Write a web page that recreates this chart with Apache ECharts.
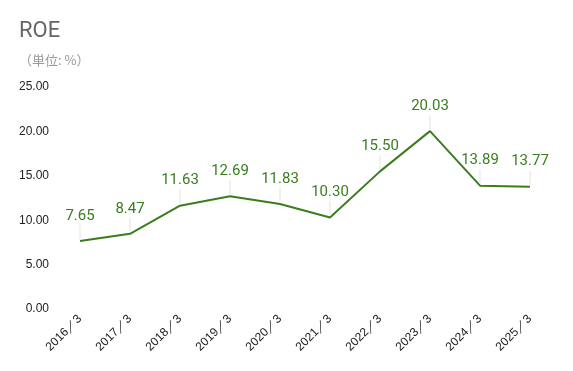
<!DOCTYPE html>
<html><head><meta charset="utf-8">
<script src="https://cdn.jsdelivr.net/npm/echarts@6/dist/echarts.min.js"></script>
<style>html,body{margin:0;padding:0;background:#fff}#c{width:573px;height:371px}</style>
</head><body><div id="c"></div>
<script>
const categories = ['2016／3','2017／3','2018／3','2019／3','2020／3','2021／3','2022／3','2023／3','2024／3','2025／3'];
const roe = [7.65, 8.47, 11.63, 12.69, 11.83, 10.30, 15.50, 20.03, 13.89, 13.77];
const yTicks = [0, 5, 10, 15, 20, 25];

const chart = echarts.init(document.getElementById('c'));
chart.setOption({
  animation: false,
  title: {
    text: 'ROE',
    subtext: '（単位: %）',
    left: 14, top: 15,
    itemGap: 12,
    textStyle: {fontSize: 22, fontWeight: 'normal', color: '#666', fontFamily: 'Roboto, sans-serif'},
    subtextStyle: {fontSize: 13, color: '#999', fontFamily: 'Noto Sans CJK JP, sans-serif'}
  },
  grid: {left: 55, right: 18, top: 87, bottom: 62},
  xAxis: {
    type: 'category',
    data: categories,
    axisLine: {show: false},
    axisTick: {show: false},
    axisLabel: {rotate: 45, margin: 8, fontSize: 12, color: '#222', fontFamily: 'Arial, sans-serif'}
  },
  yAxis: {
    type: 'value',
    min: yTicks[0], max: yTicks[yTicks.length-1], interval: 5,
    splitLine: {show: false},
    axisLine: {show: false},
    axisTick: {show: false},
    axisLabel: {margin: 6, fontSize: 12, color: '#222', fontFamily: 'Arial, sans-serif',
      formatter: v => v.toFixed(2)}
  },
  series: [{
    type: 'line',
    data: roe,
    symbol: 'circle',
    symbolSize: 0,
    showSymbol: true,
    lineStyle: {color: '#3a7d1e', width: 2},
    itemStyle: {color: '#3a7d1e'},
    label: {show: true, position: 'top', distance: 2, align: 'center',
      formatter: p => '{v|' + p.value.toFixed(2) + '}\n{l|}',
      rich: {
        v: {fontSize: 15, lineHeight: 18, color: '#3a7d1e', fontFamily: 'Roboto, sans-serif', align: 'center'},
        l: {width: 1, height: 14, backgroundColor: '#e4e4e4', align: 'center'}
      }
    }
  }]
});
</script></body></html>
